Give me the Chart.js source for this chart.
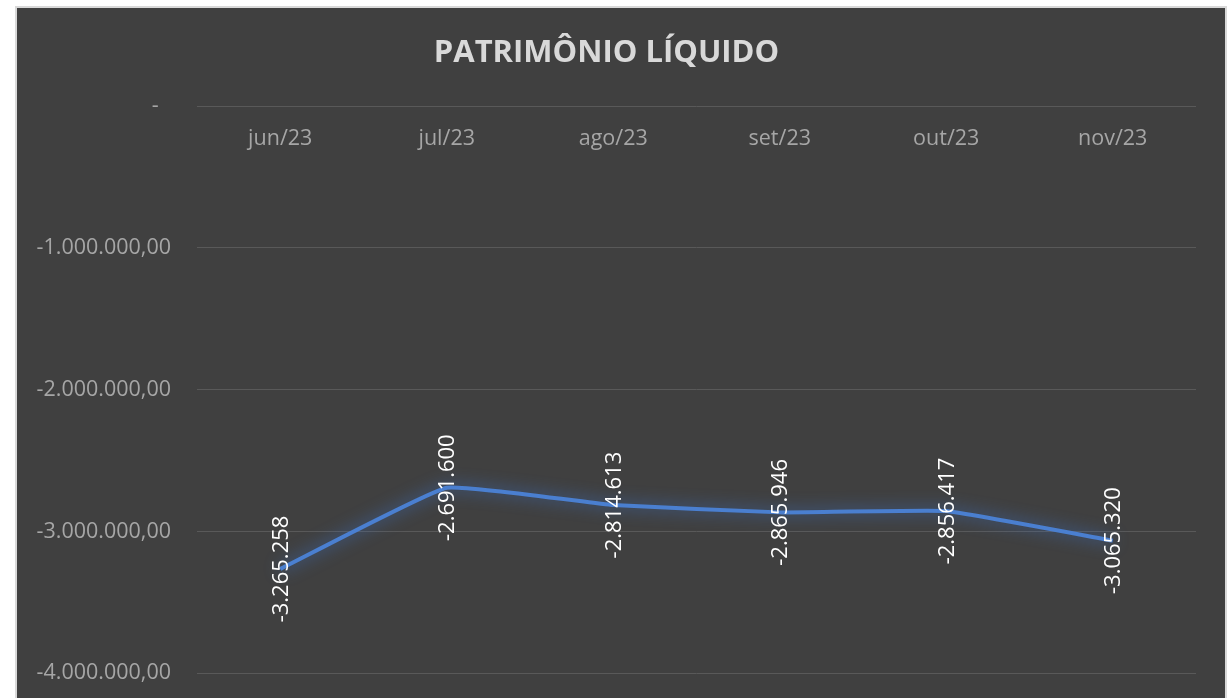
<!DOCTYPE html>
<html>
<head>
<meta charset="utf-8">
<script src="https://cdn.jsdelivr.net/npm/chart.js@4.4.0/dist/chart.umd.min.js"></script>
<style>
  html, body { margin: 0; padding: 0; background: #ffffff; width: 1230px; height: 698px; overflow: hidden; }
  #frame { position: absolute; left: 15px; top: 6px; width: 1208px; height: 720px; border: 2px solid #d9d9d9; background: #404040; }
  #wrap { position: absolute; left: 0; top: 0; width: 1208px; height: 704px; }
</style>
</head>
<body>
<div id="frame"><div id="wrap"><canvas id="c"></canvas></div></div>
<script>
const chartTitle = 'PATRIMÔNIO LÍQUIDO';
const categories = ['jun/23', 'jul/23', 'ago/23', 'set/23', 'out/23', 'nov/23'];
const values = [-3265258, -2691600, -2814613, -2865946, -2856417, -3065320];
const dataLabels = ['-3.265.258', '-2.691.600', '-2.814.613', '-2.865.946', '-2.856.417', '-3.065.320'];
const yTicks = [0, -1000000, -2000000, -3000000, -4000000];

const FONT = "'Open Sans', 'Noto Sans', sans-serif";

function fmtTick(v) {
  if (v === 0) return '-\u2007';
  return v.toLocaleString('pt-BR', { minimumFractionDigits: 2, maximumFractionDigits: 2 });
}

const glowPlugin = {
  id: 'glow',
  beforeDatasetsDraw(chart) {
    const ctx = chart.ctx;
    ctx.save();
    ctx.shadowColor = '#3d70c2';
    ctx.shadowBlur = 16;
    ctx.shadowOffsetX = 0;
    ctx.shadowOffsetY = 0;
  },
  afterDatasetsDraw(chart) {
    chart.ctx.restore();
  }
};

const labelPlugin = {
  id: 'vlabels',
  afterDraw(chart) {
    const ctx = chart.ctx;
    const meta = chart.getDatasetMeta(0);
    ctx.save();
    ctx.fillStyle = '#ffffff';
    ctx.font = '22px ' + FONT;
    ctx.textAlign = 'center';
    ctx.textBaseline = 'middle';
    meta.data.forEach((pt, i) => {
      ctx.save();
      ctx.translate(pt.x + 1, pt.y);
      ctx.rotate(-Math.PI / 2);
      ctx.fillText(dataLabels[i], 0, 0);
      ctx.restore();
    });
    ctx.restore();
  }
};

new Chart(document.getElementById('c'), {
  type: 'line',
  data: {
    labels: categories,
    datasets: [{
      data: values,
      borderColor: '#4a7fd0',
      borderWidth: 4,
      pointRadius: 0,
      tension: 0.1,
      fill: false
    }]
  },
  options: {
    responsive: true,
    maintainAspectRatio: false,
    animation: false,
    layout: { padding: { left: 0, right: 29, top: 0, bottom: 12 } },
    plugins: {
      legend: { display: false },
      tooltip: { enabled: false },
      title: {
        display: true,
        text: chartTitle,
        color: '#d9d9d9',
        font: { family: FONT, size: 31, weight: 'bold' },
        padding: { top: 27, bottom: 34 }
      }
    },
    scales: {
      x: {
        position: { y: 0 },
        offset: true,
        grid: { display: false },
        border: { display: false },
        ticks: { color: '#a6a6a6', font: { family: FONT, size: 21.5 }, padding: 12 }
      },
      y: {
        min: -4000000,
        max: 0,
        afterBuildTicks(scale) { scale.ticks = yTicks.map(v => ({ value: v })); },
        afterFit(scale) { scale.width = 180; },
        grid: { color: '#595959', lineWidth: 1, drawTicks: false },
        border: { display: false },
        ticks: { color: '#a6a6a6', font: { family: FONT, size: 21.5 }, padding: 26, callback: fmtTick }
      }
    }
  },
  plugins: [glowPlugin, labelPlugin]
});
</script>
</body>
</html>
